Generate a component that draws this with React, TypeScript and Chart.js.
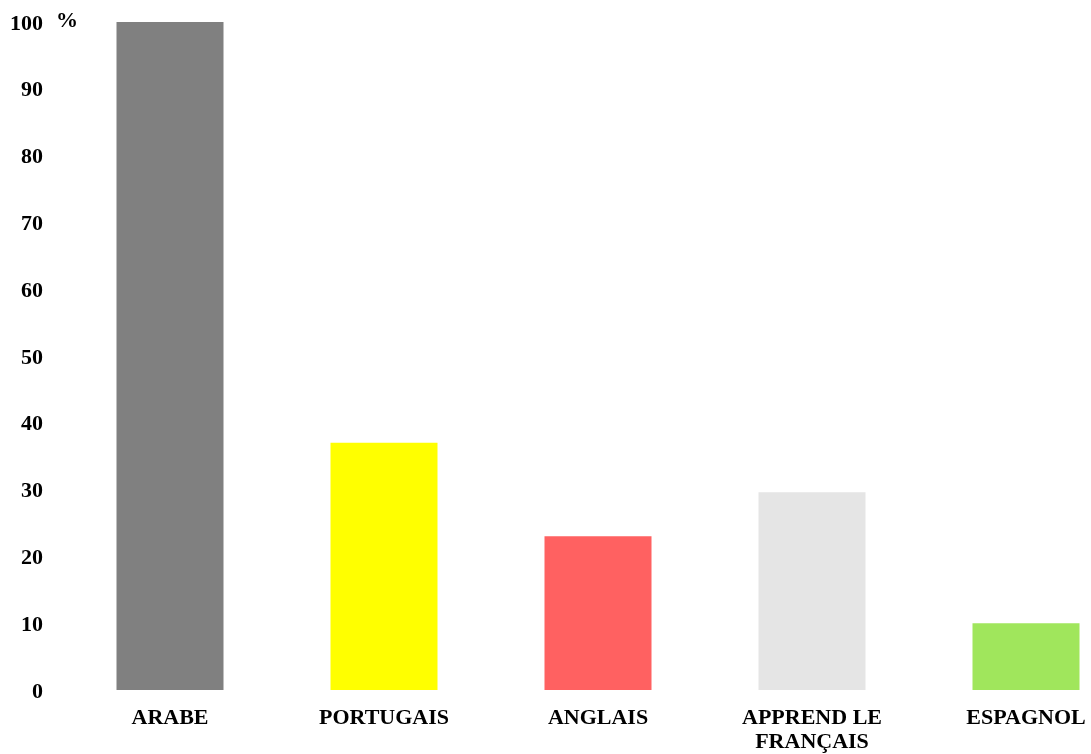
import React, { useEffect, useRef } from "react";
import { Chart, registerables } from "chart.js";

Chart.register(...registerables);

const categories: (string | string[])[] = ["ARABE", "PORTUGAIS", "ANGLAIS", ["APPREND LE", "FRANÇAIS"], "ESPAGNOL"];
const values: number[] = [100, 37, 23, 29.6, 10];
const barColors: string[] = ["#808080", "#FFFF00", "#FF6161", "#E5E5E5", "#A0E65C"];
const yMin = 0;
const yMax = 100;
const yStep = 10;
const unitLabel = "%";

const FONT = "'Liberation Serif', 'Times New Roman', serif";

const unitPlugin = {
  id: "unitLabel",
  afterDraw(chart: any) {
    const ctx = chart.ctx;
    const area = chart.chartArea;
    ctx.save();
    ctx.font = `bold 22px ${FONT}`;
    ctx.fillStyle = "#000";
    ctx.textAlign = "center";
    ctx.textBaseline = "middle";
    ctx.fillText(unitLabel, area.left + 4, area.top - 1);
    ctx.restore();
  },
};

export default function App() {
  const ref = useRef<HTMLCanvasElement | null>(null);
  useEffect(() => {
    if (!ref.current) return;
    const chart = new Chart(ref.current, {
      type: "bar",
      data: {
        labels: categories as any,
        datasets: [
          {
            data: values,
            backgroundColor: barColors,
            borderWidth: 0,
            barPercentage: 1,
            categoryPercentage: 0.5,
          },
        ],
      },
      options: {
        responsive: false,
        animation: false,
        layout: { padding: { top: 22, left: 0, right: 0, bottom: 0 } },
        plugins: {
          legend: { display: false },
          tooltip: { enabled: false },
          title: { display: false },
        },
        scales: {
          x: {
            grid: { display: false, drawTicks: false },
            border: { display: false },
            ticks: {
              color: "#000",
              font: { family: FONT, size: 22, weight: "bold", lineHeight: 1.1 },
              padding: 16,
              maxRotation: 0,
              autoSkip: false,
            },
            afterFit(scale: any) {
              scale.height = 64;
              scale.paddingLeft = 0;
              scale.paddingRight = 0;
            },
          },
          y: {
            min: yMin,
            max: yMax,
            grid: { display: false, drawTicks: false },
            border: { display: false },
            ticks: {
              stepSize: yStep,
              color: "#000",
              font: { family: FONT, size: 22, weight: "bold" },
              padding: 20,
              labelOffset: 2,
            },
            afterFit(scale: any) {
              scale.width = 63;
              scale.paddingTop = 0;
              scale.paddingBottom = 0;
            },
          },
        },
      },
      plugins: [unitPlugin],
    });
    return () => chart.destroy();
  }, []);

  return (
    <div
      style={{
        position: "fixed",
        left: 0,
        top: 0,
        width: 1091,
        height: 754,
        overflow: "hidden",
        background: "#fff",
      }}
    >
      <canvas ref={ref} width={1133} height={754} style={{ display: "block" }} />
    </div>
  );
}
